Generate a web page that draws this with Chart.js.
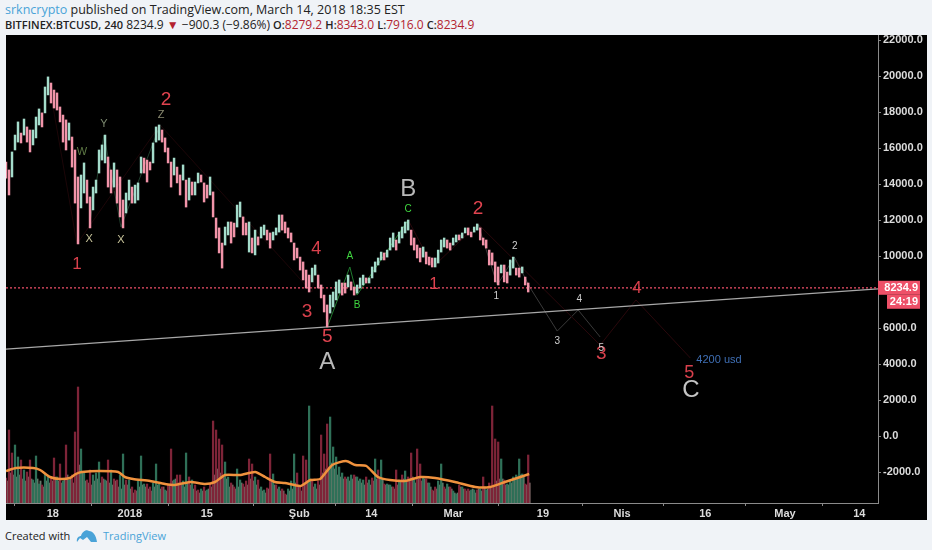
<!DOCTYPE html>
<html>
<head>
<meta charset="utf-8">
<style>
  html, body { margin: 0; padding: 0; width: 932px; height: 550px; overflow: hidden; background: #f0f3f7; }
  body { position: relative; font-family: 'Open Sans', sans-serif; color: #222; }
  #line1, #line2, .foot { position: absolute; white-space: nowrap; }
  #line1 { left: 5px; top: 1px; font-size: 12.5px; line-height: 18px; }
  #line2 { left: 5px; top: 16px; font-size: 12px; line-height: 17px; }
  #line2 b { font-size: 11px; }
  .foot { top: 527px; font-size: 11px; line-height: 18px; }
  .blue { color: #4aa3d8; }
  .red { color: #b3232f; }
  b { font-weight: 600; }
  #box { position: absolute; left: 6px; top: 35px; width: 921px; height: 485px; background: #000; }
  canvas { display: block; filter: blur(0.35px); }
  #logo { position: absolute; left: 76px; top: 529px; }
</style>
<script src="https://cdn.jsdelivr.net/npm/chart.js@4"></script>
</head>
<body>
<div id="line1"><span class="blue">srkncrypto</span> published on TradingView.com, March 14, 2018 18:35 EST</div>
<div id="line2"><b>BITFINEX:BTCUSD, 240</b> 8234.9 <span class="red">&#9660;</span> &minus;900.3 (&minus;9.86%) <b>O:</b><span class="red">8279.2</span> <b>H:</b><span class="red">8343.0</span> <b>L:</b><span class="red">7916.0</span> <b>C:</b><span class="red">8234.9</span></div>
<div id="box"><canvas id="chart" width="921" height="485"></canvas></div>
<div class="foot" style="left:5px">Created with</div>
<svg id="logo" width="22" height="14" viewBox="0 0 22 14"><path d="M1 13 C0 9 3 7 5 7 C6 3 10 0 13 2 C17 2 20 6 21 13 L15 13 L11 8 L7 11 L4 9 Z" fill="#4aa3d8"/></svg>
<div class="foot blue" style="left:103px">TradingView</div>
<script>
// price columns left to right
const priceHigh = [
  15220,14780,15780,16720,17450,16830,17610,17170,17000,17000,
  17720,18170,17950,19390,19950,19610,19220,19060,18280,17830,
  17560,17390,16610,15890,14390,14500,15170,14220,13280,13830,
  14220,15890,16170,16720,15500,14780,15170,14780,14390,13110,
  13500,14220,13830,13940,14060,15500,15440,15330,15220,16280,
  17170,17280,17000,16560,16000,15220,15440,14940,14500,15060,
  14220,14330,14110,14110,14610,14500,14060,13940,14390,13560,
  12110,11560,10720,11610,11890,11890,11830,12830,13000,12170,
  11830,11890,11000,11440,11060,11610,11720,11440,11280,11330,
  11560,12280,12280,11890,11560,11280,10720,10440,9940,9670,
  9220,8940,9330,9500,8940,8390,7830,7280,7830,8000,
  8560,8670,8500,8500,8940,8560,8280,8390,8780,8940,
  8780,8780,9390,9670,9890,10220,10170,10330,11000,11280,
  10890,11330,11610,11890,12000,11440,11000,10610,10440,10500,
  10220,9940,9890,9890,10330,10890,11000,10890,10720,11000,
  11170,11170,11280,11560,11560,11330,11610,11780,11560,11000,
  10890,10330,10170,9670,9390,9500,9500,9110,9780,9940,
  9330,9330,9390,8830,8500
];
const priceLow = [
  14330,13390,14390,15890,16330,16280,16720,16330,15780,16170,
  16560,17280,17170,17950,18950,18500,18220,18110,17450,16330,
  15890,16440,14940,12940,10670,12670,13500,12940,11560,12560,
  13500,14610,15330,15170,13830,13500,13830,12940,12170,11560,
  12390,13110,12940,12940,13110,14610,14610,14110,14780,15170,
  16330,16440,16330,15780,15170,13830,14500,14060,13390,14220,
  12720,13110,13390,13390,14060,14110,13000,13220,13390,12170,
  11000,10170,9330,10610,11170,10720,11060,11610,12170,11170,
  11170,10220,10170,10060,10610,11000,11170,10890,10440,10890,
  11170,11330,11440,11280,11000,10780,9780,9890,9220,8670,
  8220,8000,8560,8940,8220,7670,6890,6060,6830,7170,
  7560,7940,7830,7940,8280,8110,7830,7940,8220,8390,
  8500,8500,8780,9110,9500,9780,9780,9940,10330,10500,
  10330,10720,11000,11280,11440,10610,10330,9890,9670,9940,
  9560,9500,9390,9390,9610,10220,10500,10440,10330,10610,
  10780,10890,11000,11280,11170,11060,11330,11440,10890,10610,
  10440,9500,9500,8560,8390,9060,8560,8500,8940,9330,
  8940,8830,9060,8390,8000
];
const priceUp = [
  0,0,1,1,1,0,1,0,0,1, 1,1,0,1,1,0,0,0,0,0, 0,1,0,0,0,1,1,0,0,1,
  1,1,1,1,0,0,1,0,0,0, 1,1,0,1,1,1,0,0,0,1, 1,1,0,0,0,0,1,0,0,1,
  0,1,0,1,1,0,0,0,1,0, 0,0,0,1,1,0,0,1,1,0, 0,1,0,1,0,1,1,0,0,1,
  1,1,0,0,0,0,0,0,0,0, 0,0,1,1,0,0,0,0,1,1, 1,1,0,0,1,0,0,1,1,1,
  0,1,1,1,1,1,0,1,1,1, 0,1,1,1,1,0,0,0,0,1, 0,0,0,1,1,1,1,0,0,1,
  1,0,1,1,0,0,1,1,0,0, 0,0,0,0,0,1,0,0,1,1, 0,0,1,0,0
];
const volumes = [
  25,73,50,58,46,43,33,31,43,23,
  47,19,18,29,26,26,45,26,39,22,
  58,23,28,71,116,54,31,23,33,28,
  30,41,26,23,43,33,24,23,28,49,
  23,23,16,13,22,47,19,19,16,20,
  39,19,16,13,18,54,23,28,28,22,
  50,26,23,18,13,14,16,13,19,82,
  73,64,58,41,26,20,16,34,23,19,
  22,44,39,26,23,16,13,15,49,29,
  18,16,14,9,14,22,49,30,16,47,
  43,97,23,19,22,68,49,79,86,56,
  46,36,30,26,26,28,28,26,24,23,
  26,23,25,44,33,43,19,19,18,16,
  33,23,28,32,26,50,23,54,39,26,
  24,20,13,16,22,39,16,19,16,12,
  9,18,16,14,14,13,13,13,14,26,
  13,20,97,64,61,44,23,19,22,26,
  28,44,29,19,48
];
const volumeUp = [
  0,0,0,1,1,0,1,0,0,1, 1,1,0,1,1,0,0,1,0,1, 0,1,0,0,0,1,1,0,0,1,
  1,1,0,1,0,1,0,0,1,1, 0,1,0,0,1,1,1,0,0,1, 1,1,0,1,0,0,1,0,0,1,
  1,0,1,0,0,1,0,1,0,0, 0,0,0,1,1,0,0,1,1,0, 0,0,0,1,0,1,1,0,0,1,
  0,1,0,0,1,1,1,0,0,0, 0,1,0,1,0,0,0,0,1,1, 1,1,1,0,1,1,0,1,1,1,
  0,1,0,1,0,1,0,1,1,0, 0,1,0,1,0,0,1,0,0,1, 0,1,0,0,1,1,0,1,0,1,
  1,0,1,0,0,1,1,0,1,0, 1,0,0,0,0,1,0,1,1,1, 1,1,1,0,0
];
// the lower, denser bars between the columns above
const volumeBase = [
  22,30,28,26,28,24,22,26,24,20,
  24,22,16,22,20,22,26,22,20,24,
  28,24,20,30,38,30,22,20,18,22,
  24,20,24,22,20,18,22,16,14,18,
  18,14,10,12,16,18,16,14,12,16,
  18,14,16,12,18,22,24,20,18,16,
  20,18,14,12,10,12,12,14,16,28,
  34,30,26,24,16,18,14,16,20,16,
  18,24,22,18,14,12,10,14,22,18,
  14,12,12,8,12,14,20,16,12,18,
  20,24,16,14,18,30,34,36,40,34,
  28,26,24,24,22,24,26,22,20,18,
  20,18,22,24,26,24,18,18,16,14,
  18,22,24,22,22,26,20,24,22,24,
  20,16,12,14,18,20,14,16,14,10,
  10,16,14,12,12,14,10,14,12,16,
  14,16,18,22,24,24,18,18,20,24,
  26,28,26,18,20
];
const firstDay = 0;
const columnStep = 0.5455;   // days per price column
const barDays = priceHigh.map((_, i) => firstDay + i * columnStep);
const baseDays = barDays.map(d => d + columnStep / 2);

// moving average over the volume bars
const maDays = [0,1.8,4.9,6.2,8,9.8,11.6,12.7,13.8,17.1,20.4,21.6,23.1,26.2,28.9,30.7,33.5,36.2,38,39.8,42.5,45.3,47.1,48.9,50.7,53.5,55.3,57.1,59.3,61.8,63.5,65.5,67.6,69.8,72.5,75.3,78,81.6,85.3,88,90.7,93.5,95.1];
const maValues = [32,35,35,33,26,24,25,29,31,32,31,26,24,22,19,18,21,19,21,28,28,31,26,21,20,17,23,24,38,42,38,37,26,23,22,26,25,21,16,16,21,26,29];

// drawn lines
const trendDays = [0,158.5];
const trendPrices = [4830,8170];
const lastPrice = 8234.9;
const lastPriceDays = [0,158.5];
const redWaveDays = [7.6,12.9,28,55.6,56.4,58.4];
const redWavePrices = [19950,10670,17280,8000,9500,6060];
const redWave2Days = [73.1,77.6,85.8,108,114.5,124.4];
const redWave2Prices = [12000,9390,11780,5050,7560,4330];
const greyWaveDays = [85.8,89.3,92.4,95.3,100.2,104,108];
const greyWavePrices = [11780,8390,9940,8220,5830,7000,5500];
const greenWaveDays = [58.4,62.5,63.8,73.1];
const greenWavePrices = [6060,9390,7830,12000];
const oliveWaveDays = [15.1,17.8,20.9,28];
const oliveWavePrices = [11560,16720,11610,17280];

// wave labels: text, day, price, colour, font size
const waveLabels = [
  ['1',12.9,9560,'#d8404c',17], ['2',29.1,18670,'#e0434f',19],
  ['4',56.4,10390,'#d8404c',18], ['3',54.7,6890,'#d8404c',19],
  ['5',58.4,5500,'#e0434f',19], ['1',77.8,8440,'#e0434f',17],
  ['2',85.8,12610,'#e0434f',19], ['4',114.7,8220,'#d8404c',17],
  ['3',108.2,4560,'#d8404c',19], ['5',124.2,3500,'#d8404c',18],
  ['A',58.4,4110,'#b8b8b8',24], ['B',73.1,13720,'#b8b8b8',24], ['C',124.5,2560,'#c4c4c4',24],
  ['1',89.1,7780,'#d0d0d0',10], ['2',92.5,10560,'#d0d0d0',10], ['3',100.2,5280,'#d0d0d0',10],
  ['4',104.2,7610,'#d0d0d0',10], ['5',108.2,4890,'#d0d0d0',10],
  ['A',62.5,10000,'#3fd63f',10], ['B',63.8,7280,'#3fd63f',10], ['C',73.1,12610,'#3fd63f',10],
  ['W',13.8,15780,'#5f7a45',11], ['Y',17.8,17330,'#7d8a70',11], ['Z',28.2,17830,'#8a8a70',11],
  ['X',15.1,10940,'#c8c49a',11], ['X',20.9,10890,'#c8c49a',11],
  ['4200 usd',129.6,4220,'#3f6fb5',11]
];

const xTickDays = [8.5,22.5,36.5,53.3,66.4,81.3,97.6,112,127.1,141.6,155.1];
const xTickLabels = ['18','2018','15','Şub','14','Mar','19','Nis','16','May','14'];
const yTickValues = [22000,20000,18000,16000,14000,12000,10000,6000,4000,2000,0,-2000];
const timerText = '24:19';

function points(days, values) {
  return days.map((d, i) => ({x: d, y: values[i]}));
}
function waveLine(days, values, color, width) {
  return {type: 'line', data: points(days, values), borderColor: color, borderWidth: width,
    pointRadius: 0, tension: 0, yAxisID: 'y', order: 3};
}

const labelPlugin = {
  id: 'labels',
  afterDatasetsDraw(chart) {
    const {ctx, scales: {x, y}} = chart;
    ctx.save();
    ctx.textAlign = 'center';
    ctx.textBaseline = 'middle';
    waveLabels.forEach(l => {
      ctx.font = l[4] + "px 'Liberation Sans'";
      ctx.fillStyle = l[3];
      ctx.fillText(l[0], x.getPixelForValue(l[1]), y.getPixelForValue(l[2]));
    });
    ctx.restore();
  },
  afterDraw(chart) {
    // last price tag and bar countdown on the price axis
    const {ctx, scales: {y}, chartArea} = chart;
    const py = y.getPixelForValue(lastPrice);
    const left = chartArea.right;
    ctx.save();
    ctx.fillStyle = '#ee5068';
    ctx.fillRect(left, py - 7, 42, 14);
    ctx.fillRect(left + 9, py + 7, 33, 14);
    ctx.fillStyle = '#fff';
    ctx.font = "bold 11px 'Liberation Sans'";
    ctx.textAlign = 'right';
    ctx.textBaseline = 'middle';
    ctx.fillText(lastPrice.toFixed(1), left + 40, py);
    ctx.fillText(timerText, left + 40, py + 14);
    ctx.restore();
  }
};

new Chart(document.getElementById('chart').getContext('2d'), {
  data: {
    datasets: [
      {
        type: 'line', data: points(maDays, maValues), borderColor: '#f0923e', borderWidth: 2.5,
        pointRadius: 0, tension: 0.2, yAxisID: 'yVol', order: 4
      },
      {
        type: 'bar', data: points(barDays, volumes), yAxisID: 'yVol', order: 5, grouped: false, barThickness: 1.6,
        backgroundColor: volumeUp.map(u => u ? '#2f7058' : '#7e2438')
      },
      {
        type: 'bar', data: points(baseDays, volumeBase), yAxisID: 'yVol', order: 6, grouped: false, barThickness: 1.2,
        backgroundColor: volumeUp.map(u => u ? '#667a6a' : '#7a6462')
      },
      waveLine(trendDays, trendPrices, '#a8a8a8', 1.2),
      {
        type: 'line', data: points(lastPriceDays, [lastPrice, lastPrice]), borderColor: '#f0506a', borderWidth: 1.2,
        borderDash: [2, 2], pointRadius: 0, yAxisID: 'y', order: 2
      },
      waveLine(redWaveDays, redWavePrices, '#1c0608', 1),
      waveLine(redWave2Days, redWave2Prices, '#2a080c', 1),
      waveLine(greyWaveDays, greyWavePrices, '#3a3a3a', 1),
      waveLine(greenWaveDays, greenWavePrices, '#1f7a2e', 1),
      waveLine(oliveWaveDays, oliveWavePrices, '#1f3d2c', 1),
      {
        type: 'bar', data: barDays.map((d, i) => ({x: d, y: [priceLow[i], priceHigh[i]]})), yAxisID: 'y',
        order: 1, grouped: false, barThickness: 1.8,
        backgroundColor: priceUp.map(u => u ? '#a4dccb' : '#f294a9')
      }
    ]
  },
  options: {
    responsive: false,
    animation: false,
    events: [],
    layout: {padding: 0},
    plugins: {legend: {display: false}, tooltip: {enabled: false}},
    scales: {
      x: {
        type: 'linear', min: 0, max: 158.5, offset: false,
        afterBuildTicks(axis) { axis.ticks = xTickDays.map(v => ({value: v})); },
        afterFit(axis) { axis.height = 17; axis.paddingLeft = 0; axis.paddingRight = 0; },
        ticks: {
          autoSkip: false, maxRotation: 0, padding: 1, color: '#dcdcdc',
          font: {family: "'Liberation Sans'", size: 11, weight: 'bold'},
          callback: v => xTickLabels[xTickDays.indexOf(v)]
        },
        grid: {drawOnChartArea: false, color: '#888', tickLength: 3},
        border: {color: '#8a8a8a'}
      },
      y: {
        position: 'right', min: -3722, max: 22278,
        afterBuildTicks(axis) { axis.ticks = yTickValues.map(v => ({value: v})); },
        afterFit(axis) { axis.width = 49; axis.paddingTop = 0; axis.paddingBottom = 0; },
        ticks: {
          autoSkip: false, padding: 2, color: '#dcdcdc',
          font: {family: "'Liberation Sans'", size: 11, weight: 'bold'},
          callback: v => v.toFixed(1)
        },
        grid: {drawOnChartArea: false, color: '#888', tickLength: 3},
        border: {color: '#8a8a8a'}
      },
      yVol: {display: false, min: 0, max: 468}
    }
  },
  plugins: [labelPlugin]
});
</script>
</body>
</html>
